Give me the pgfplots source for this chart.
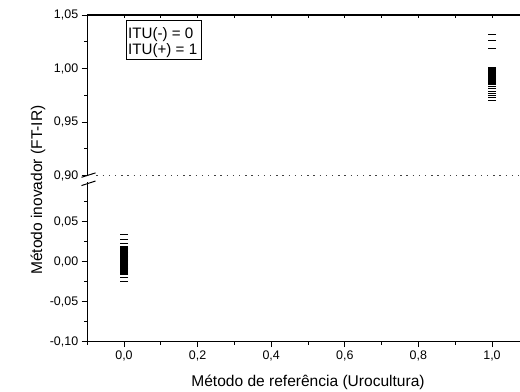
\documentclass[border=0pt]{standalone}
\usepackage{pgfplots}
\pgfplotsset{compat=1.18}
\usepackage{fontspec}
\setmainfont{Liberation Sans}
\newcommand{\ticksize}{\fontsize{12.5}{14}\selectfont}
\newcommand{\labsize}{\fontsize{15.6}{17}\selectfont}
\newcommand{\legsize}{\fontsize{15.2}{17}\selectfont}
\begin{document}
\begin{tikzpicture}
\pgfplotsset{
  base/.style={
    scale only axis,
    width=441.6bp,
    xmin=-0.1, xmax=1.1,
    axis y line*=left,
    tick align=outside,
    major tick length=5.5bp,
    minor tick length=3bp,
    every tick/.style={black, line width=0.9bp},
    axis line style={black, line width=1.1bp},
    tick label style={font=\ticksize},
    /pgf/number format/assume math mode=true,
    /pgf/number format/use comma,
    /pgf/number format/fixed,
    /pgf/number format/fixed zerofill,
    clip=false,
  },
  dashmark/.style={only marks, mark=-, mark size=4bp, mark options={line width=1.1bp, black}},
}
% Upper panel
\begin{axis}[base,
  at={(87.2bp,216.3bp)}, anchor=south west,
  height=160.7bp,
  ymin=0.90, ymax=1.05,
  axis x line*=top,
  xtick=\empty,
  ytick={0.90,0.95,1.00,1.05},
  minor ytick={0.925,0.975,1.025},
  yticklabel style={/pgf/number format/precision=2},
]
\addplot[dashmark] coordinates {
(1,1.032) (1,1.026) (1,1.019)
(1,1.001) (1,1.000) (1,0.999) (1,0.998) (1,0.997) (1,0.996) (1,0.995)
(1,0.994) (1,0.993) (1,0.992) (1,0.991) (1,0.990) (1,0.989) (1,0.988)
(1,0.987) (1,0.986) (1,0.985) (1,0.983) (1,0.981) (1,0.979) (1,0.977)
(1,0.975) (1,0.973) (1,0.970)
};
\draw[black!75, line width=1bp, dash pattern=on 1.3bp off 4.9bp] (axis cs:-0.075,0.90) -- (axis cs:1.1,0.90);
\pgfplotsinvokeforeach{0,0.1,0.2,0.3,0.4,0.5,0.6,0.7,0.8,0.9,1.0}{
  \draw[black, line width=0.9bp] (axis cs:#1,1.05) -- ([yshift=-3bp]axis cs:#1,1.05);
}
\end{axis}
% Lower panel
\begin{axis}[base,
  at={(87.2bp,50.3bp)}, anchor=south west,
  height=160bp,
  ymin=-0.10, ymax=0.10,
  axis x line*=bottom,
  xtick={0,0.2,0.4,0.6,0.8,1.0},
  minor xtick={-0.1,0.1,0.3,0.5,0.7,0.9},
  xticklabel style={/pgf/number format/precision=1},
  ytick={-0.10,-0.05,0,0.05},
  minor ytick={-0.075,-0.025,0.025,0.075},
  yticklabel style={/pgf/number format/precision=2},
]
\addplot[dashmark] coordinates {
(0,0.034) (0,0.0275) (0,0.0225) (0,0.0195) (0,0.018) (0,0.017) (0,0.016)
(0,0.015) (0,0.014) (0,0.013) (0,0.012) (0,0.011) (0,0.010) (0,0.009)
(0,0.008) (0,0.007) (0,0.006) (0,0.005) (0,0.004) (0,0.003) (0,0.002)
(0,0.001) (0,0.000) (0,-0.001) (0,-0.002) (0,-0.003) (0,-0.004) (0,-0.005)
(0,-0.006) (0,-0.007) (0,-0.008) (0,-0.009) (0,-0.010) (0,-0.011)
(0,-0.012) (0,-0.013) (0,-0.0145) (0,-0.0165) (0,-0.020) (0,-0.0245)
};
\end{axis}
% axis break marks
\draw[black, line width=1bp] (81.5bp,214.7bp) -- (95.5bp,219.1bp);
\draw[black, line width=1bp] (81.5bp,206.4bp) -- (95.5bp,211.0bp);
% text box
\draw[black, line width=0.9bp] (126bp,372bp) rectangle (201bp,333bp);
\node[anchor=base west, inner sep=0pt, font=\legsize] at (128bp,353.7bp) {ITU(-) = 0};
\node[anchor=base west, inner sep=0pt, font=\legsize] at (128bp,337bp) {ITU(+) = 1};
% axis labels
\node[rotate=90, anchor=base, font=\labsize] at (42bp,202bp) {Método inovador (FT-IR)};
\node[anchor=base, font=\labsize] at (308bp,5.3bp) {Método de referência (Urocultura)};
\pgfresetboundingbox
\path[use as bounding box] (0bp,0bp) rectangle (520bp,392bp);
\end{tikzpicture}
\end{document}
